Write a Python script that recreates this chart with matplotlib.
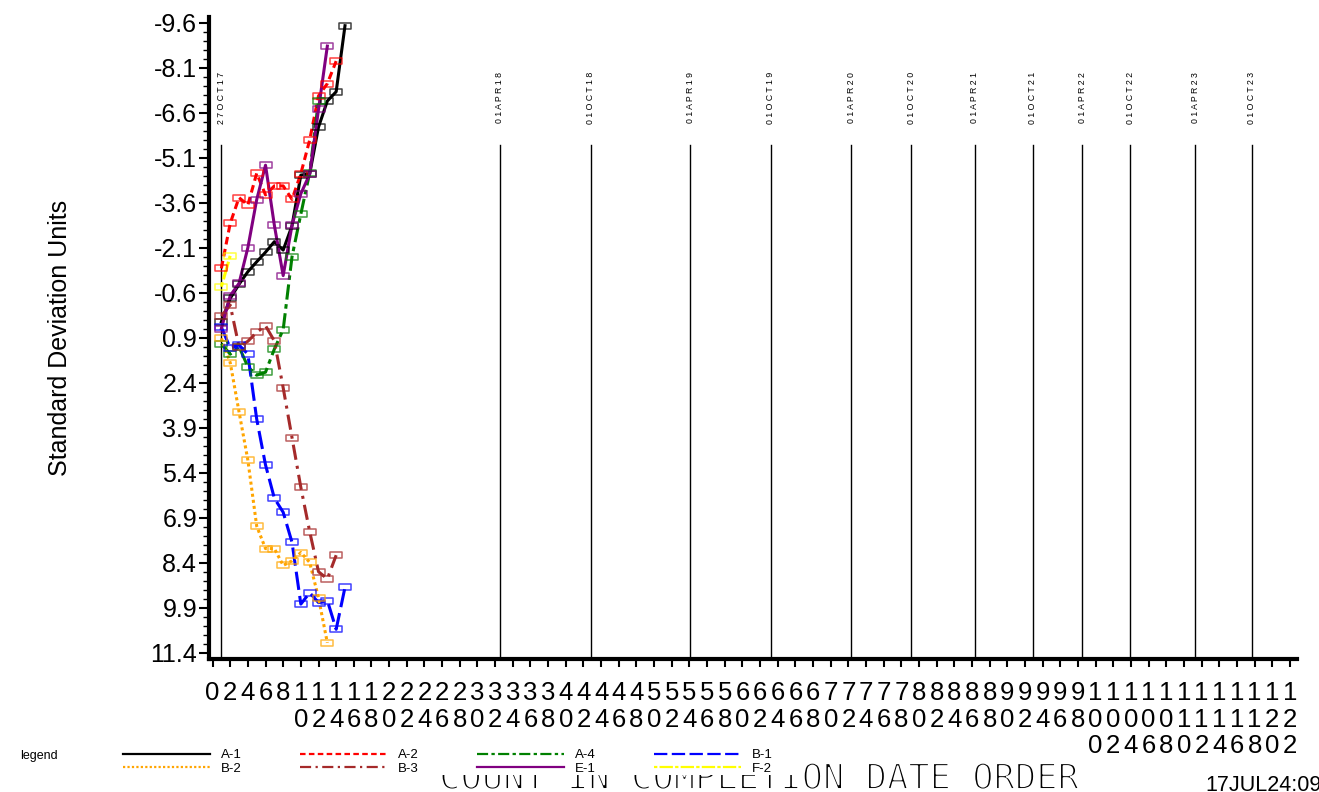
import numpy as np
import matplotlib
matplotlib.use("Agg")
import matplotlib.pyplot as plt
import matplotlib.patheffects as pe
from matplotlib.path import Path
from matplotlib.patches import Rectangle

plt.rcParams['font.family'] = ['Liberation Sans', 'DejaVu Sans']

# ---- data (count index vs. standard deviation units) ----
a1_x = list(range(1, 16))
a1_y = [0.37, -0.41, -0.88, -1.30, -1.63, -1.95, -2.30, -2.02, -2.83, -4.52, -4.56, -6.12, -6.99, -7.30, -9.50]

a2_x = list(range(1, 15))
a2_y = [-1.41, -2.91, -3.77, -3.52, -4.58, -3.86, -4.16, -4.16, -3.71, -4.57, -5.69, -7.16, -7.57, -8.32]

a4_x = list(range(1, 13))
a4_y = [1.10, 1.45, 1.20, 1.87, 2.15, 2.05, 1.28, 0.63, -1.80, -3.22, -4.60, -7.00]

b1_x = list(range(1, 16))
b1_y = [0.55, 1.24, 1.14, 1.45, 3.61, 5.14, 6.25, 6.72, 7.72, 9.78, 9.40, 9.73, 9.66, 10.62, 9.22]

b2_x = list(range(1, 14))
b2_y = [0.92, 1.73, 3.37, 4.98, 7.18, 7.93, 7.93, 8.49, 8.34, 8.06, 8.39, 9.57, 11.07]

b3_x = list(range(1, 15))
b3_y = [0.18, -0.19, 1.20, 1.02, 0.72, 0.50, 1.01, 2.57, 4.23, 5.89, 7.36, 8.70, 8.94, 8.15]

e1_x = list(range(1, 14))
e1_y = [0.60, -0.50, -0.91, -2.10, -3.70, -4.85, -2.85, -1.17, -2.85, -3.90, -4.55, -6.71, -8.82]

f2_x = [1, 2]
f2_y = [-0.80, -1.83]

date_pos = [1, 32.5, 42.8, 54.1, 63.2, 72.3, 79.1, 86.3, 92.9, 98.5, 103.9, 111.3, 117.7]
date_lab = ['27OCT17', '01APR18', '01OCT18', '01APR19', '01OCT19', '01APR20', '01OCT20',
            '01APR21', '01OCT21', '01APR22', '01OCT22', '01APR23', '01OCT23']

y_ticks = np.arange(-9.6, 11.5, 1.5)
x_ticks = list(range(0, 123, 2))

#==============================================================================
# figure / axes
#==============================================================================
W, H = 1319, 792
fig = plt.figure(figsize=(W / 100, H / 100), dpi=100)
ax = fig.add_axes([209 / W, 1 - 659 / H, (1297 - 209) / W, (659 - 17) / H])

box = Path([(-1, -0.55), (1, -0.55), (1, 0.55), (-1, 0.55), (-1, -0.55)],
           [Path.MOVETO, Path.LINETO, Path.LINETO, Path.LINETO, Path.CLOSEPOLY])

series = [
    ('A-1', a1_x, a1_y, 'black', None),
    ('A-2', a2_x, a2_y, 'red', (2.5, 1.5)),
    ('A-4', a4_x, a4_y, 'green', (5, 1.5, 1.5, 1.5)),
    ('B-1', b1_x, b1_y, 'blue', (6, 2)),
    ('B-2', b2_x, b2_y, 'orange', (1, 1)),
    ('B-3', b3_x, b3_y, 'brown', (5, 2, 1, 2)),
    ('E-1', e1_x, e1_y, 'purple', None),
    ('F-2', f2_x, f2_y, 'yellow', (1.5, 1, 6, 1)),
]

handles = {}
for name, xs, ys, col, dash in series:
    ln, = ax.plot(xs, ys, color=col, lw=2.2, label=name, zorder=3)
    if dash:
        ln.set_dashes(dash)
    ax.plot(xs, ys, ls='none', marker=box, ms=8, mfc='none', mec=col,
            mew=1.1, alpha=0.75, zorder=4)
    handles[name] = ln

# date reference lines
for p, lab in zip(date_pos, date_lab):
    ax.plot([p, p], [0, 0.80], color='black', lw=1,
            transform=ax.get_xaxis_transform(), zorder=2)
    ax.text(p, 0.874, ' '.join(lab), rotation=90, ha='center', va='center',
            fontsize=6.3, transform=ax.get_xaxis_transform())

ax.set_xlim(-0.4, 122.8)
ax.set_ylim(11.61, -9.79)

ax.set_yticks(y_ticks)
ax.set_yticklabels(['%.1f' % v for v in y_ticks], fontsize=18)
ax.set_yticks(np.arange(-9.6, 11.5, 0.3), minor=True)
ax.set_xticks(x_ticks)
ax.set_xticklabels(['\n'.join(str(t)) for t in x_ticks], fontsize=18.5)
for lab in ax.get_xticklabels():
    lab.set_linespacing(1.13)

ax.tick_params(axis='y', which='major', length=7, width=1.5, pad=1.5)
ax.tick_params(axis='y', which='minor', length=4, width=1)
ax.tick_params(axis='x', which='major', length=6, width=1.5, pad=10)

for s in ['top', 'right']:
    ax.spines[s].set_visible(False)
for s in ['left', 'bottom']:
    ax.spines[s].set_linewidth(3)

ax.set_ylabel('Standard Deviation Units', fontsize=18)
ax.yaxis.set_label_coords((72 - 209) / (1297 - 209), 0.5)

#==============================================================================
# bottom texts and legend
#==============================================================================
fig.text(758 / W, 3 / H, 'COUNT IN COMPLETION DATE ORDER', ha='center', va='baseline',
         family='DejaVu Sans Mono', fontsize=25.5, zorder=1,
         path_effects=[pe.Normal(), pe.Stroke(linewidth=1.4, foreground='white')])
fig.add_artist(Rectangle((0, 17 / H), 800 / W, 35 / H, transform=fig.transFigure,
                         facecolor='white', edgecolor='none', zorder=2))

order = ['A-1', 'B-2', 'A-2', 'B-3', 'A-4', 'E-1', 'B-1', 'F-2']
leg = fig.legend(handles=[handles[k] for k in order], loc='upper left',
                 bbox_to_anchor=(123 / W, 1 - 749 / H), ncol=4, frameon=False,
                 fontsize=9.5, handlelength=6.6, handletextpad=0.83, columnspacing=4.4,
                 labelspacing=0.1, borderaxespad=0, borderpad=0)
for l in leg.get_lines():
    l.set_linewidth(1.6)
fig.text(20 / W, 1 - 756 / H, 'legend', fontsize=9, va='center', ha='left', zorder=3)

fig.text(1205 / W, 1 - 791 / H, '17JUL24:09:32', fontsize=15.5, va='baseline', ha='left')

fig.savefig('out.png', dpi=100)
